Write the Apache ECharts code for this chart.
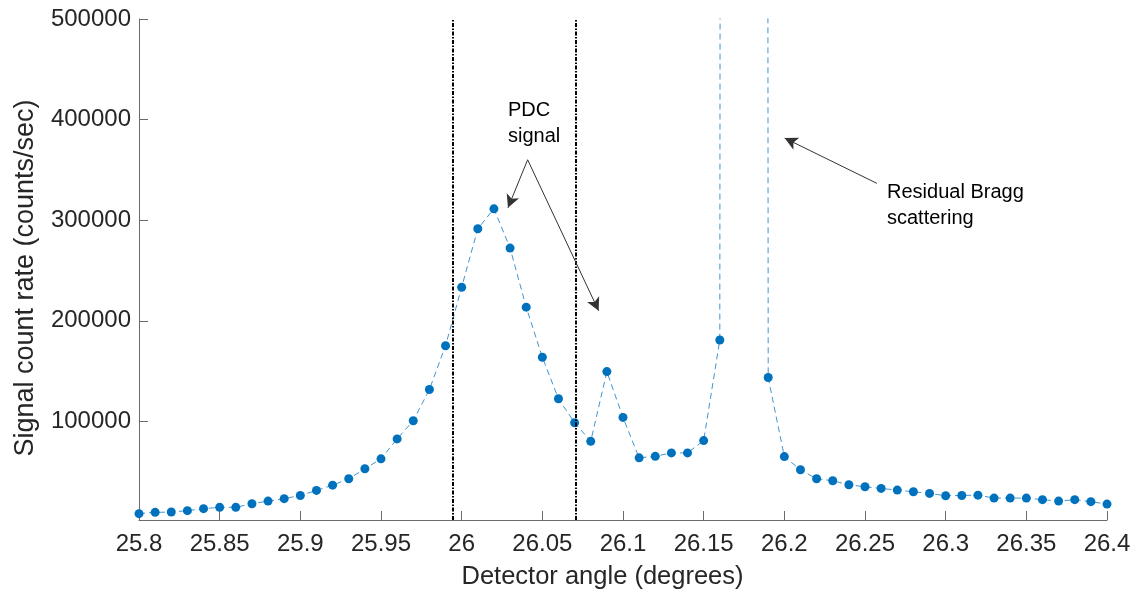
<!DOCTYPE html>
<html>
<head>
<meta charset="utf-8">
<script src="https://cdn.jsdelivr.net/npm/echarts@6/dist/echarts.min.js"></script>
<style>
  html, body { margin: 0; padding: 0; background: #fff; }
  #main { width: 1136px; height: 598px; }
</style>
</head>
<body>
<div id="main"></div>
<script>
// detector angle (degrees)
var angles = [
  25.80, 25.81, 25.82, 25.83, 25.84, 25.85, 25.86, 25.87, 25.88, 25.89,
  25.90, 25.91, 25.92, 25.93, 25.94, 25.95, 25.96, 25.97, 25.98, 25.99,
  26.00, 26.01, 26.02, 26.03, 26.04, 26.05, 26.06, 26.07, 26.08, 26.09,
  26.10, 26.11, 26.12, 26.13, 26.14, 26.15, 26.16, 26.17, 26.18, 26.19,
  26.20, 26.21, 26.22, 26.23, 26.24, 26.25, 26.26, 26.27, 26.28, 26.29,
  26.30, 26.31, 26.32, 26.33, 26.34, 26.35, 26.36, 26.37, 26.38, 26.39,
  26.40
];
// signal count rate (counts/sec); 26.17 and 26.18 are far off scale (Bragg peak)
var counts = [
  8300, 9600, 9900, 11300, 13300, 14600, 14600, 18200, 20800, 23200,
  26400, 31400, 36600, 43000, 52900, 62800, 82600, 100700, 131700, 175200,
  233400, 291500, 311300, 272300, 213600, 163800, 122500, 98700, 80200, 149500,
  104000, 63800, 65300, 68700, 68700, 80900, 180900, 20000000, 20000000, 143600,
  65000, 51900, 43000, 41000, 37000, 35000, 33400, 31700, 30100, 28400,
  26100, 26400, 26700, 23800, 23800, 23800, 22200, 20800, 22200, 20200,
  17800
];
var yTicks = [100000, 200000, 300000, 400000, 500000];
// PDC window edges
var windowEdges = [25.9943, 26.0707];
// annotation arrows [from, to] in data coords
var pdcArrows = [
  [[26.0409, 360100], [26.0287, 312300]],
  [[26.0409, 360100], [26.0849, 209900]]
];
var braggArrow = [[26.2574, 336600], [26.2002, 381600]];

var font = "'Liberation Sans', Arial, Helvetica, sans-serif";
var ink = '#262626';
var blue = '#0072BD';

var chart = echarts.init(document.getElementById('main'));

var points = angles.map(function (a, i) { return [a, counts[i]]; });

function arrowData(pair) {
  return [
    { coord: pair[0], symbol: 'none' },
    { coord: pair[1], symbol: 'arrow' }
  ];
}

var option = {
  backgroundColor: '#fff',
  animation: false,
  grid: { left: 139, right: 29, top: 19, bottom: 78, containLabel: false },
  xAxis: {
    type: 'value',
    min: 25.8,
    max: 26.4,
    interval: 0.05,
    name: 'Detector angle (degrees)',
    nameLocation: 'middle',
    nameGap: 44,
    nameTextStyle: { color: ink, fontSize: 25.5, fontFamily: font, padding: [0, 41, 0, 0] },
    axisLine: { lineStyle: { color: '#6b6b6b', width: 1 } },
    axisTick: { inside: true, length: 9, lineStyle: { color: '#6b6b6b' } },
    axisLabel: { color: ink, fontSize: 24, fontFamily: font, margin: 12 },
    splitLine: { show: false }
  },
  yAxis: {
    type: 'value',
    min: 2000,
    max: 500000,
    axisLine: { show: true, lineStyle: { color: '#6b6b6b', width: 1 } },
    axisTick: { show: true, inside: true, length: 9, customValues: yTicks, lineStyle: { color: '#6b6b6b' } },
    axisLabel: {
      color: ink, fontSize: 24, fontFamily: font, margin: 8, customValues: yTicks,
      formatter: function (v) { return String(v); }
    },
    splitLine: { show: false }
  },
  series: [
    {
      type: 'line',
      data: points,
      symbol: 'circle',
      symbolSize: 9,
      clip: true,
      itemStyle: { color: blue },
      lineStyle: { color: blue, width: 1, type: [6, 4], opacity: 0.75 },
      markLine: {
        silent: true,
        symbol: 'none',
        precision: 4,
        label: { show: false },
        lineStyle: { color: '#000', width: 2, type: [4, 1.5, 1.5, 1.5] },
        data: windowEdges.map(function (x) { return { xAxis: x }; })
      }
    },
    {
      type: 'line',
      data: [],
      markLine: {
        silent: true,
        precision: 4,
        symbolSize: [10, 13],
        label: { show: false },
        lineStyle: { color: '#333', width: 1, type: 'solid' },
        itemStyle: { color: '#000' },
        data: pdcArrows.map(arrowData).concat([arrowData(braggArrow)])
      }
    }
  ],
  graphic: [
    {
      type: 'text', x: 26, y: 278, rotation: Math.PI / 2,
      style: {
        text: 'Signal count rate (counts/sec)', font: '27px ' + font, fill: ink,
        align: 'center', verticalAlign: 'middle'
      }
    },
    {
      type: 'text', left: 508, top: 97,
      style: { text: 'PDC\nsignal', font: '20px ' + font, fill: '#000', lineHeight: 26 }
    },
    {
      type: 'text', left: 887, top: 179,
      style: { text: 'Residual Bragg\nscattering', font: '20px ' + font, fill: '#000', lineHeight: 26 }
    }
  ]
};

chart.setOption(option);
</script>
</body>
</html>
